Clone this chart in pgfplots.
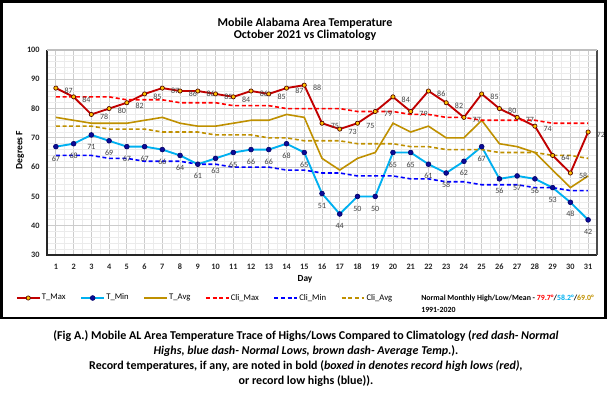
\documentclass[border=0pt]{standalone}
\usepackage{pgfplots}
\pgfplotsset{compat=1.18}
\usepackage{pgfplotstable}
\usepackage{fontspec}
\setmainfont{Carlito}
\definecolor{tmax}{HTML}{C00000}
\definecolor{tmaxmark}{HTML}{FFC000}
\definecolor{tmin}{HTML}{00B0F0}
\definecolor{tminmark}{HTML}{0A0A9A}
\definecolor{tavg}{HTML}{BF9000}
\definecolor{cmax}{HTML}{FF0000}
\definecolor{cmin}{HTML}{0000FF}
\definecolor{cavg}{HTML}{BF9000}
\definecolor{lbl}{HTML}{404040}

\pgfplotstableread{
day tmax tmin tavg cmax cmin cavg
1 87 67 77 84 64 74
2 84 68 76 84 64 74
3 78 71 75 84 64 74
4 80 69 75 84 63 73
5 82 67 75 83 63 73
6 85 67 76 83 62 73
7 87 66 77 83 62 72
8 86 64 75 82 62 72
9 86 61 74 82 61 72
10 85 63 74 82 61 71
11 84 65 75 81 60 71
12 86 66 76 81 60 71
13 85 66 76 81 60 70
14 87 68 78 80 59 70
15 88 65 77 80 59 69
16 75 51 63 80 58 69
17 73 44 59 80 58 69
18 75 50 63 79 57 68
19 79 50 65 79 57 68
20 84 65 75 79 57 68
21 79 65 72 78 56 67
22 86 61 74 78 56 67
23 82 58 70 77 55 66
24 77 62 70 77 55 66
25 85 67 76 76 54 66
26 80 56 68 76 54 65
27 77 57 67 76 54 65
28 74 56 65 76 53 65
29 64 53 59 75 53 64
30 58 48 53 75 52 64
31 72 42 57 75 52 63
}\data

\begin{document}
\begin{tikzpicture}
\useasboundingbox (0,0) rectangle (456pt,-294.75pt);
\begin{axis}[
  at={(35.25pt,-191.25pt)}, anchor=south west,
  scale only axis, width=412.5pt, height=153.75pt,
  xmin=0.5, xmax=31.5, ymin=30, ymax=100,
  xtick={1,...,31}, ytick={30,40,...,100},
  minor x tick num=1, minor y tick num=4,
  grid=both,
  major grid style={draw=black!20, line width=0.6pt},
  minor grid style={draw=black!8, line width=0.6pt},
  major tick length=0pt, minor tick length=0pt,
  axis line style={draw=none},
  /pgf/number format/assume math mode=true,
  ticklabel style={font=\bfseries\fontsize{6.2}{7}\selectfont, text=black!85},
  xticklabel style={yshift=-3pt},
  yticklabel style={xshift=-2pt},
  clip=false,
  legend columns=6,
  legend style={at={(axis description cs:0,0)}, anchor=west, xshift=-23.5pt, yshift=-32.25pt,
    draw=none, fill=none, inner sep=0pt,
    font=\fontsize{6.5}{8}\selectfont,
    nodes={inner sep=1pt},
    /tikz/every even column/.append style={column sep=10pt}},
]
\addplot[tmax, line width=1.4pt, mark=*, mark size=1.6pt,
  mark options={fill=tmaxmark, draw=black!60!tmax, line width=0.5pt},
  nodes near coords,
  nodes near coords style={font=\fontsize{6}{7}\selectfont, text=lbl, anchor=west, xshift=3pt, yshift=-2pt}]
  table[x=day,y=tmax]{\data};
\addlegendentry{T\_Max}
\addplot[tmin, line width=1.4pt, mark=*, mark size=1.8pt,
  mark options={fill=tminmark, draw=tminmark!70!black, line width=0.5pt},
  nodes near coords,
  nodes near coords style={font=\fontsize{6}{7}\selectfont, text=lbl, anchor=center, yshift=-9pt}]
  table[x=day,y=tmin]{\data};
\addlegendentry{T\_Min}
\addplot[tavg, line width=1.2pt] table[x=day,y=tavg]{\data};
\addlegendentry{T\_Avg}
\addplot[cmax, line width=1.2pt, dash pattern=on 3pt off 2pt] table[x=day,y=cmax]{\data};
\addlegendentry{Cli\_Max}
\addplot[cmin, line width=1.2pt, dash pattern=on 3pt off 2pt] table[x=day,y=cmin]{\data};
\addlegendentry{Cli\_Min}
\addplot[cavg, line width=1.2pt, dash pattern=on 3pt off 2pt] table[x=day,y=cavg]{\data};
\addlegendentry{Cli\_Avg}
\draw[black!85, line width=0.8pt] (rel axis cs:0,1) -- (rel axis cs:0,0) -- (rel axis cs:1,0);
\draw[black!70, line width=0.8pt] (rel axis cs:1,0) -- (rel axis cs:1,1);
\draw[black!25, line width=0.8pt] (rel axis cs:0,1) -- (rel axis cs:1,1);
\end{axis}
\begin{scope}[x=0.75pt, y=-0.75pt]
\draw[line width=2pt] (1.5,1.3) rectangle (605.8,318);
\node[font=\bfseries\fontsize{9}{11}\selectfont] at (305,23) {Mobile Alabama Area Temperature};
\node[font=\bfseries\fontsize{9}{11}\selectfont] at (305,35) {October 2021 vs Climatology};
\node[font=\bfseries\fontsize{7.2}{8}\selectfont, rotate=90] at (20,150) {Degrees F};
\node[font=\bfseries\fontsize{7}{8}\selectfont] at (305,279) {Day};
\node[anchor=west, font=\bfseries\fontsize{5.9}{7}\selectfont, inner sep=0pt] at (421,298)
  {Normal Monthly High/Low/Mean - \textcolor{cmax}{79.7°}/\textcolor{tmin}{58.2°}/\textcolor{tavg}{69.0°}};
\node[anchor=west, font=\bfseries\fontsize{5.9}{7}\selectfont, inner sep=0pt] at (421,310) {1991-2020};
\node[align=center, font=\bfseries\fontsize{9}{11.25}\selectfont] at (306,359)
  {(Fig A.) Mobile AL Area Temperature Trace of Highs/Lows Compared to Climatology (\textit{red dash- Normal}\\
   \textit{Highs, blue dash- Normal Lows, brown dash- Average Temp.}).\\
   Record temperatures, if any, are noted in bold (\textit{boxed in denotes record high lows (red),}\\
   or record low highs (blue)).};
\end{scope}
\end{tikzpicture}
\end{document}
